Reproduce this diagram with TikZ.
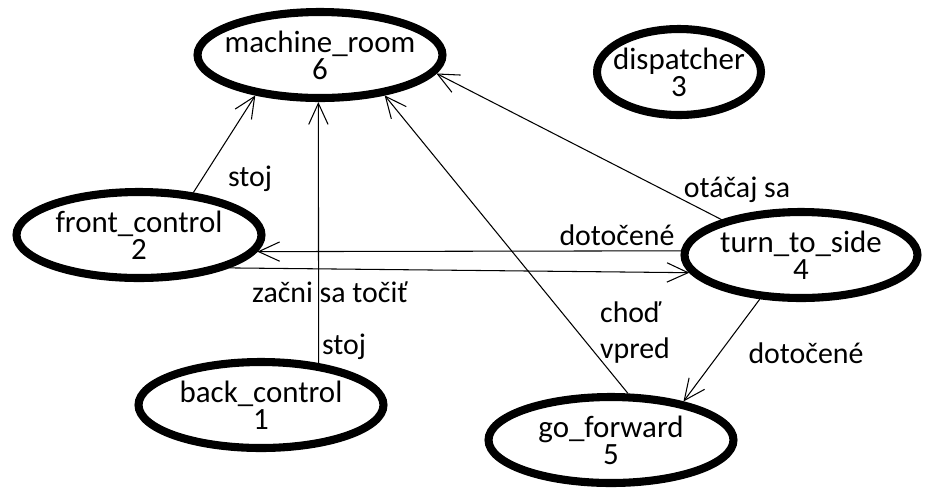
\documentclass[tikz,border=0pt]{standalone}
\usepackage{fontspec}
\setmainfont{Carlito}
\usetikzlibrary{shapes.geometric,arrows.meta}
\tikzset{
  >={Straight Barb[length=12pt,width=11pt]},
  state/.style     = { ellipse, draw, line width=4.6pt,
                       minimum width=4.9cm, minimum height=1.72cm },
  statetext/.style = { align=center, font=\fontsize{17.6}{15.4}\selectfont },
  trans/.style     = { ->, line width=0.6pt },
  tlabel/.style    = { align=left, inner sep=0pt, font=\fontsize{17}{20.5}\selectfont }
}

\begin{document}
\begin{tikzpicture}[x=0.02cm,y=-0.02cm]
  \useasboundingbox (0,0) rectangle (927,488);

  % Draw all states
  \node[state, label={[statetext]center:machine\_room\\6}] (machine_room) at (320,55) {};
  \node[state, minimum width=3.28cm, label={[statetext]center:dispatcher\\3}] (dispatcher) at (679,72) {};
  \node[state, label={[statetext]center:front\_control\\2}] (front_control) at (139,235) {};
  \node[state, minimum width=4.66cm, label={[statetext]center:turn\_to\_side\\4}] (turn_to_side) at (801,255) {};
  \node[state, label={[statetext]center:back\_control\\1}] (back_control) at (261,405) {};
  \node[state, label={[statetext]center:go\_forward\\5}] (go_forward) at (611,440) {};

  % Draw transitions
  \draw[trans] (front_control.38)  -- (machine_room.212);
  \draw[trans] (back_control.36)   -- (machine_room.268);
  \draw[trans] (go_forward.70)     -- (machine_room.328);
  \draw[trans] (turn_to_side.156)  -- (machine_room.351);
  \draw[trans] (turn_to_side.178)  -- (front_control.352);
  \draw[trans] (front_control.340) -- (turn_to_side.189);
  \draw[trans] (turn_to_side.227)  -- (go_forward.28);

  % Draw labels
  \node[tlabel] (stoj_front) at (250,179) {stoj};
  \node[tlabel] (stoj_back)  at (344,347) {stoj};
  \node[tlabel] (zacni)      at (330,292) {začni sa točiť};
  \node[tlabel] (dotocene_a) at (617,235) {dotočené};
  \node[tlabel] (otacaj)     at (737,190) {otáčaj sa};
  \node[tlabel] (chod)       at (635,333) {choď\\vpred};
  \node[tlabel] (dotocene_b) at (806,353) {dotočené};
\end{tikzpicture}
\end{document}
